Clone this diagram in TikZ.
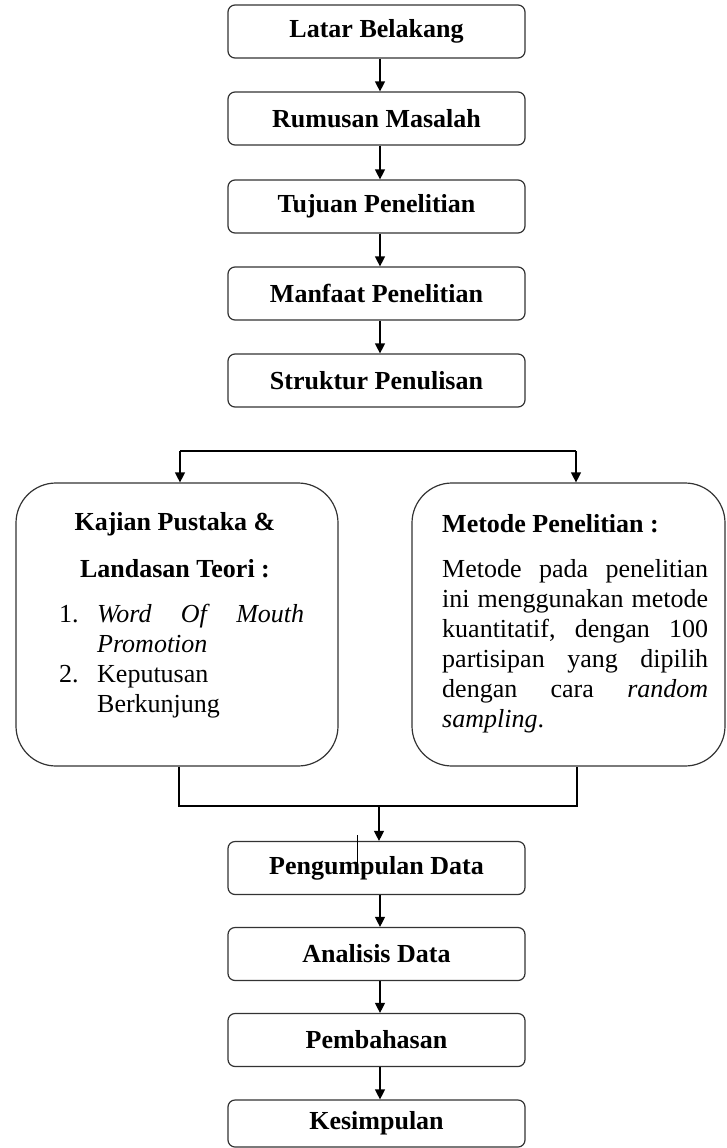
\documentclass[tikz,border=0pt]{standalone}
\usepackage{fontspec}
\setmainfont{Liberation Serif}
\usetikzlibrary{arrows.meta,calc}
\tikzset{
 flowbox/.style={draw=black!80, line width=1.2pt, rounded corners=7pt, minimum width=297pt, minimum height=53pt, inner sep=0pt, font=\fontsize{26}{30}\selectfont\bfseries},
 bigbox/.style={draw=black!80, line width=1.2pt, rounded corners=40pt, inner sep=0pt},
 arr/.style={-{Triangle[length=10pt,width=10pt]}, line width=1.2pt},
 conn/.style={line width=1.2pt},
 txt/.style={anchor=base west, inner sep=0pt, font=\fontsize{26}{30}\selectfont},
}
\begin{document}
\begin{tikzpicture}[x=1pt,y=-1pt]
\useasboundingbox (0,0) rectangle (726,1148);
% top chain
\node[flowbox] (latar) at (376.5,31.5) {Latar Belakang};
\node[flowbox] (rumusan) at (376.5,118.5) {Rumusan Masalah};
\node[flowbox] (tujuan) at (376.5,206.5) {Tujuan Penelitian};
\node[flowbox] (manfaat) at (376.5,293.5) {Manfaat Penelitian};
\node[flowbox] (struktur) at (376.5,380.5) {Struktur Penulisan};
\draw[arr] ([xshift=3.5pt]latar.south) -- ([xshift=3.5pt]rumusan.north);
\draw[arr] ([xshift=3.5pt]rumusan.south) -- ([xshift=3.5pt]tujuan.north);
\draw[arr] ([xshift=3.5pt]tujuan.south) -- ([xshift=3.5pt]manfaat.north);
\draw[arr] ([xshift=3.5pt]manfaat.south) -- ([xshift=3.5pt]struktur.north);
% big boxes
\node[bigbox, minimum width=322pt, minimum height=283pt] (kajian) at (177,624.5) {};
\node[bigbox, minimum width=313pt, minimum height=283pt] (metode) at (568.5,624.5) {};
% branch
\coordinate (bl) at (180,451);
\coordinate (br) at (576,451);
\draw[conn] (bl) -- (br);
\draw[arr] (bl) -- (bl |- kajian.north);
\draw[arr] (br) -- (br |- metode.north);
% left text
\node[txt, anchor=base] (k1) at (175,530) {\bfseries Kajian Pustaka \&};
\node[txt, anchor=base] (k2) at (175,577) {\bfseries Landasan Teori :};
\node[txt] (n1) at (59,622) {1.};
\node[txt] (i1) at (97,622) {\hbox to 207pt{\itshape Word\hfill Of\hfill Mouth}};
\node[txt] (i1b) at (97,652) {\itshape Promotion};
\node[txt] (n2) at (59,682) {2.};
\node[txt] (i2) at (97,682) {Keputusan};
\node[txt] (i2b) at (97,712) {Berkunjung};
% right text
\node[txt] (m0) at (442,532) {\bfseries Metode Penelitian :};
\node[txt] (m1) at (442,577) {\hbox to 266pt{Metode\hfill pada\hfill penelitian}};
\node[txt] (m2) at (442,607) {\hbox to 266pt{ini\hfill menggunakan\hfill metode}};
\node[txt] (m3) at (442,637) {\hbox to 266pt{kuantitatif,\hfill dengan\hfill 100}};
\node[txt] (m4) at (442,667) {\hbox to 266pt{partisipan\hfill yang\hfill dipilih}};
\node[txt] (m5) at (442,697) {\hbox to 266pt{dengan\hfill cara\hfill \textit{random}}};
\node[txt] (m6) at (442,727) {\textit{sampling}.};
% bottom chain
\node[flowbox] (pengumpulan) at (376.5,868) {Pengumpulan Data};
\node[flowbox] (analisis) at (376.5,954) {Analisis Data};
\node[flowbox] (pembahasan) at (376.5,1040) {Pembahasan};
\node[flowbox, minimum height=47pt] (kesimpulan) at (376.5,1123.5) {Kesimpulan};
% join
\coordinate (jl) at (179,806);
\coordinate (jr) at (577,806);
\coordinate (jm) at (379,806);
\draw[conn] (jl |- kajian.south) -- (jl) -- (jr) -- (jr |- metode.south);
\draw[arr] (jm) -- (jm |- pengumpulan.north);
\coordinate (cur) at (357,835);
\draw[line width=0.8pt] (cur) -- ++(0,28);
\draw[arr] ([xshift=3.5pt]pengumpulan.south) -- ([xshift=3.5pt]analisis.north);
\draw[arr] ([xshift=3.5pt]analisis.south) -- ([xshift=3.5pt]pembahasan.north);
\draw[arr] ([xshift=3.5pt]pembahasan.south) -- ([xshift=3.5pt]kesimpulan.north);
\end{tikzpicture}
\end{document}
